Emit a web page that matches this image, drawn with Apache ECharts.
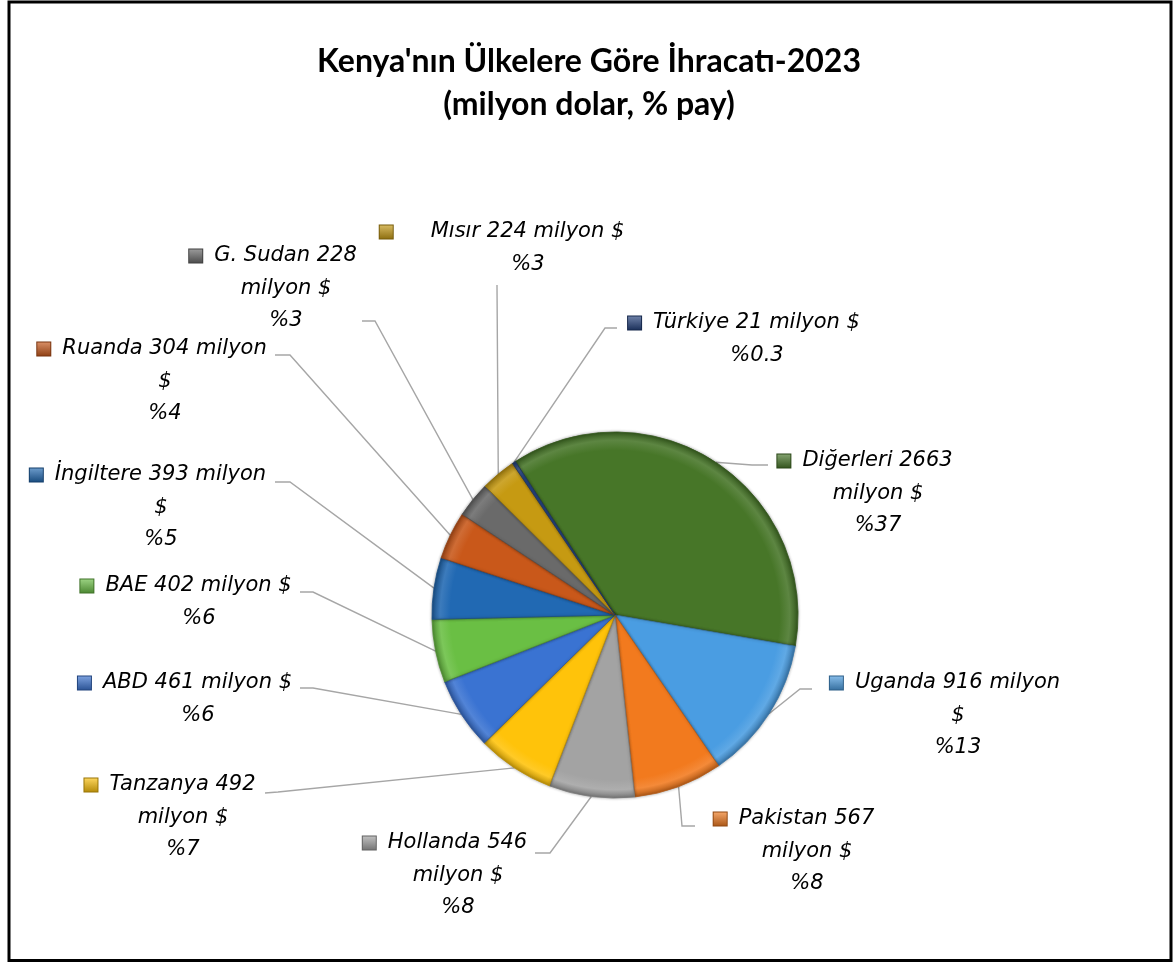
<!DOCTYPE html>
<html>
<head>
<meta charset="utf-8">
<script src="https://cdn.jsdelivr.net/npm/echarts@6/dist/echarts.min.js"></script>
<style>
  html, body { margin: 0; padding: 0; background: #fff; }
  #chart { width: 1173px; height: 962px; }
</style>
</head>
<body>
<div id="chart"></div>
<script>
// ---- Data ----
const categories = ['Diğerleri', 'Uganda', 'Pakistan', 'Hollanda', 'Tanzanya', 'ABD', 'BAE', 'İngiltere', 'Ruanda', 'G. Sudan', 'Mısır', 'Türkiye'];
const values = [2663, 916, 567, 546, 492, 461, 402, 393, 304, 228, 224, 21];
const unitText = 'milyon $';
// where each label's first line is wrapped (text wrapping only)
const breakAfter = ['value', 'milyon', 'value', 'value', 'value', 'none', 'none', 'milyon', 'milyon', 'value', 'none', 'none'];
const titleText = "Kenya'nın Ülkelere Göre İhracatı-2023\n(milyon dolar, % pay)";

// ---- Styles ----
const colors = ['#477628', '#4A9DE2', '#F27A1E', '#A3A3A3', '#FFC30A', '#3A73D2', '#6ABF44', '#2169B3', '#C9581A', '#6A6A6A', '#C69A12', '#24427E'];
const LABEL_FONT = '"DejaVu Sans", "Open Sans", sans-serif';
const TITLE_FONT = 'Lato, "Open Sans", sans-serif';
const LH = 32.5;
const PIE_C = [615, 615];
const PIE_R = 183;

// label placement (layout only): centre x of text, first-line centre y, leader anchor & elbow, wide key gap
const LABEL_LAYOUT = [
  { cx: 878, y1: 461, ex: 752, ey: 465, ax: 768, ay: 465 },
  { cx: 958, y1: 683, ex: 800, ey: 689, ax: 812, ay: 689 },
  { cx: 807, y1: 819, ex: 682, ey: 826, ax: 695, ay: 826 },
  { cx: 458, y1: 843, ex: 550, ey: 853, ax: 535, ay: 853 },
  { cx: 183, y1: 785, ex: 278, ey: 792, ax: 265, ay: 793 },
  { cx: 198, y1: 683, ex: 313, ey: 688, ax: 300, ay: 688 },
  { cx: 199, y1: 586, ex: 313, ey: 592, ax: 300, ay: 592 },
  { cx: 161, y1: 475, ex: 290, ey: 482, ax: 275, ay: 482 },
  { cx: 165, y1: 349, ex: 290, ey: 355, ax: 275, ay: 355 },
  { cx: 286, y1: 256, ex: 375, ey: 321, ax: 362, ay: 321 },
  { cx: 528, y1: 232, ex: 497, ey: 286, ax: 497, ay: 285, wide: true },
  { cx: 757, y1: 323, ex: 605, ey: 328, ax: 617, ay: 328 }
];

function shade(hex, f) {
  const n = parseInt(hex.slice(1), 16);
  let r = (n >> 16) & 255, g = (n >> 8) & 255, b = n & 255;
  if (f < 0) { r = Math.round(r * (1 + f)); g = Math.round(g * (1 + f)); b = Math.round(b * (1 + f)); }
  else { r = Math.round(r + (255 - r) * f); g = Math.round(g + (255 - g) * f); b = Math.round(b + (255 - b) * f); }
  return 'rgb(' + r + ',' + g + ',' + b + ')';
}

const rich = {
  t: { fontSize: 21, fontStyle: 'italic', fontFamily: LABEL_FONT, color: '#000', lineHeight: LH },
  g: { width: 12, lineHeight: LH },
  s: { width: 26, lineHeight: LH },
  G: { width: 38, lineHeight: LH },
  S: { width: 52, lineHeight: LH }
};
colors.forEach((c, i) => {
  rich['k' + i] = {
    width: 13, height: 13, lineHeight: LH,
    backgroundColor: {
      type: 'linear', x: 0, y: 0, x2: 0, y2: 1,
      colorStops: [{ offset: 0, color: shade(c, 0.35) }, { offset: 1, color: shade(c, -0.3) }]
    },
    borderColor: shade(c, -0.4), borderWidth: 1
  };
});

const seriesData = categories.map((name, i) => ({
  name: name,
  value: values[i],
  itemStyle: {
    color: {
      type: 'radial', x: PIE_C[0], y: PIE_C[1], r: PIE_R, global: true,
      colorStops: [
        { offset: 0, color: colors[i] },
        { offset: 0.9, color: colors[i] },
        { offset: 0.955, color: shade(colors[i], 0.12) },
        { offset: 1, color: shade(colors[i], -0.25) }
      ]
    },
    borderColor: shade(colors[i], -0.25),
    borderWidth: 0.8
  }
}));

const chart = echarts.init(document.getElementById('chart'), null, { renderer: 'canvas' });
chart.setOption({
  backgroundColor: '#fff',
  animation: false,
  title: {
    text: titleText,
    left: 584, top: 35, textAlign: 'center',
    textStyle: { fontFamily: TITLE_FONT, fontWeight: 'bold', fontSize: 32, color: '#000', lineHeight: 43 }
  },
  graphic: [{
    type: 'rect', silent: true,
    shape: { x: 9, y: 2, width: 1162, height: 958.5 },
    style: { fill: 'none', stroke: '#000', lineWidth: 3 }
  }],
  series: [{
    type: 'pie',
    center: PIE_C,
    radius: PIE_R,
    startAngle: 123,
    clockwise: true,
    avoidLabelOverlap: false,
    data: seriesData,
    itemStyle: { shadowBlur: 3, shadowColor: 'rgba(0,0,0,0.35)' },
    emphasis: { disabled: true },
    label: {
      show: true,
      position: 'outside',
      align: 'center',
      formatter: function (p) {
        const i = p.dataIndex;
        const pct = p.percent < 1 ? p.percent.toFixed(1) : String(Math.round(p.percent));
        const base = p.name + ' ' + p.value;
        let lines;
        if (breakAfter[i] === 'value') lines = [base, unitText];
        else if (breakAfter[i] === 'milyon') lines = [base + ' milyon', '$'];
        else lines = [base + ' ' + unitText];
        lines.push('%' + pct);
        const wide = LABEL_LAYOUT[i].wide;
        const gap = wide ? 'G' : 'g', sp = wide ? 'S' : 's';
        return lines.map((l, j) => j === 0
          ? '{k' + i + '|}{' + gap + '|}{t|' + l + '}{' + sp + '|}'
          : '{t|' + l + '}').join('\n');
      },
      rich: rich
    },
    labelLine: {
      show: true,
      lineStyle: { color: '#A6A6A6', width: 1.4 }
    },
    labelLayout: function (params) {
      const L = LABEL_LAYOUT[params.dataIndex];
      const out = { x: L.cx, y: L.y1 - LH / 2, align: 'center', verticalAlign: 'top', hideOverlap: false, moveOverlap: null };
      if (params.labelLinePoints && params.labelLinePoints[0]) {
        const p0 = params.labelLinePoints[0];
        out.labelLinePoints = [[p0[0], p0[1]], [L.ex, L.ey], [L.ax, L.ay]];
      }
      return out;
    }
  }]
});
</script>
</body>
</html>
